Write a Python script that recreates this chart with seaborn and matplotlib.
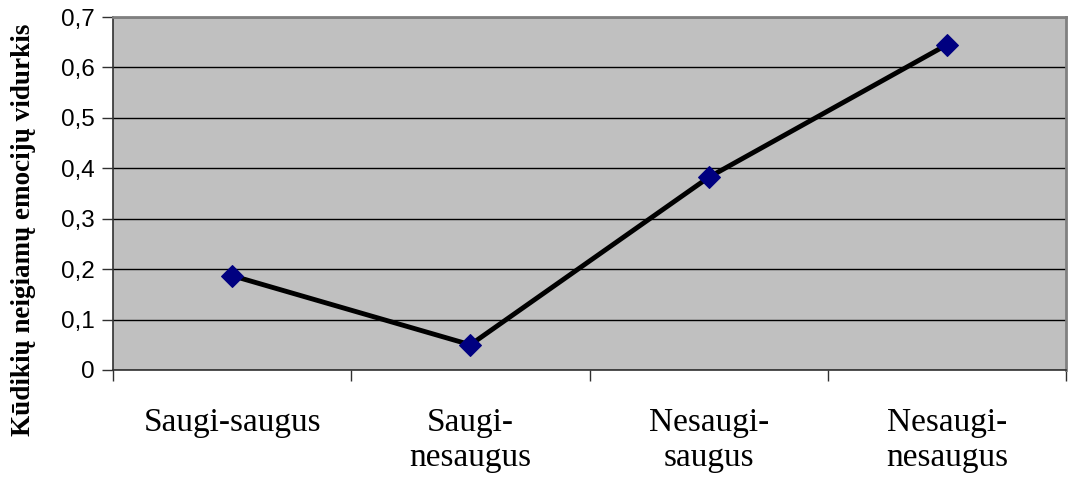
import matplotlib
matplotlib.use("Agg")
import matplotlib.pyplot as plt
from matplotlib.ticker import FixedLocator, FuncFormatter
import seaborn as sns
import pandas as pd

# data
groups = ["Saugi-saugus", "Saugi-\nnesaugus", "Nesaugi-\nsaugus", "Nesaugi-\nnesaugus"]
means = [0.187, 0.05, 0.382, 0.645]
y_ticks = [0, 0.1, 0.2, 0.3, 0.4, 0.5, 0.6, 0.7]

df = pd.DataFrame({"group": groups, "mean": means, "pos": range(len(groups))})

sns.set_style("white")
plt.rcParams["text.color"] = "black"
plt.rcParams["xtick.labelcolor"] = "black"
plt.rcParams["ytick.labelcolor"] = "black"
plt.rcParams["axes.labelcolor"] = "black"

fig = plt.figure(figsize=(10.7, 4.79), dpi=100)
ax = fig.add_axes([0.1056, 0.2276, 0.8907, 0.7369])
ax.set_facecolor("#c0c0c0")

sns.lineplot(data=df, x="pos", y="mean", ax=ax, color="black", linewidth=3.5,
             marker="D", markersize=11, markerfacecolor="#000080",
             markeredgecolor="#000080", zorder=3)

ax.set_xlim(-0.5, len(groups) - 0.5)
ax.set_ylim(0, 0.7)
ax.set_yticks(y_ticks)
ax.yaxis.set_major_formatter(FuncFormatter(lambda v, p: "0" if v == 0 else f"{v:.1f}".replace(".", ",")))
ax.grid(axis="y", color="black", linewidth=1)
ax.set_axisbelow(True)

# category labels centred, tick marks on the boundaries
ax.set_xticks(range(len(groups)))
ax.set_xticklabels(groups, family="Liberation Serif", fontsize=24, linespacing=1.2, color="black")
ax.xaxis.set_minor_locator(FixedLocator([i - 0.5 for i in range(len(groups) + 1)]))
ax.tick_params(axis="x", which="major", length=0, pad=27)
ax.tick_params(axis="x", which="minor", length=8, width=1, color="#303030", direction="out", bottom=True)
ax.tick_params(axis="y", length=8, width=1, color="#303030", direction="out", left=True,
               labelsize=17.5, pad=5, labelcolor="black")
for lbl in ax.get_yticklabels():
    lbl.set_family("Liberation Sans")

ax.set_xlabel("")
ax.set_ylabel("Kūdikių neigiamų emocijų vidurkis", family="Liberation Serif",
              fontweight="bold", fontsize=19.5, color="black")
ax.yaxis.set_label_coords(-0.081, 0.397)

for side in ["left", "bottom"]:
    ax.spines[side].set_color("#303030")
    ax.spines[side].set_linewidth(1.2)
for side in ["top", "right"]:
    ax.spines[side].set_color("#808080")
    ax.spines[side].set_linewidth(2)

fig.savefig("out.png", dpi=100, facecolor="white")
